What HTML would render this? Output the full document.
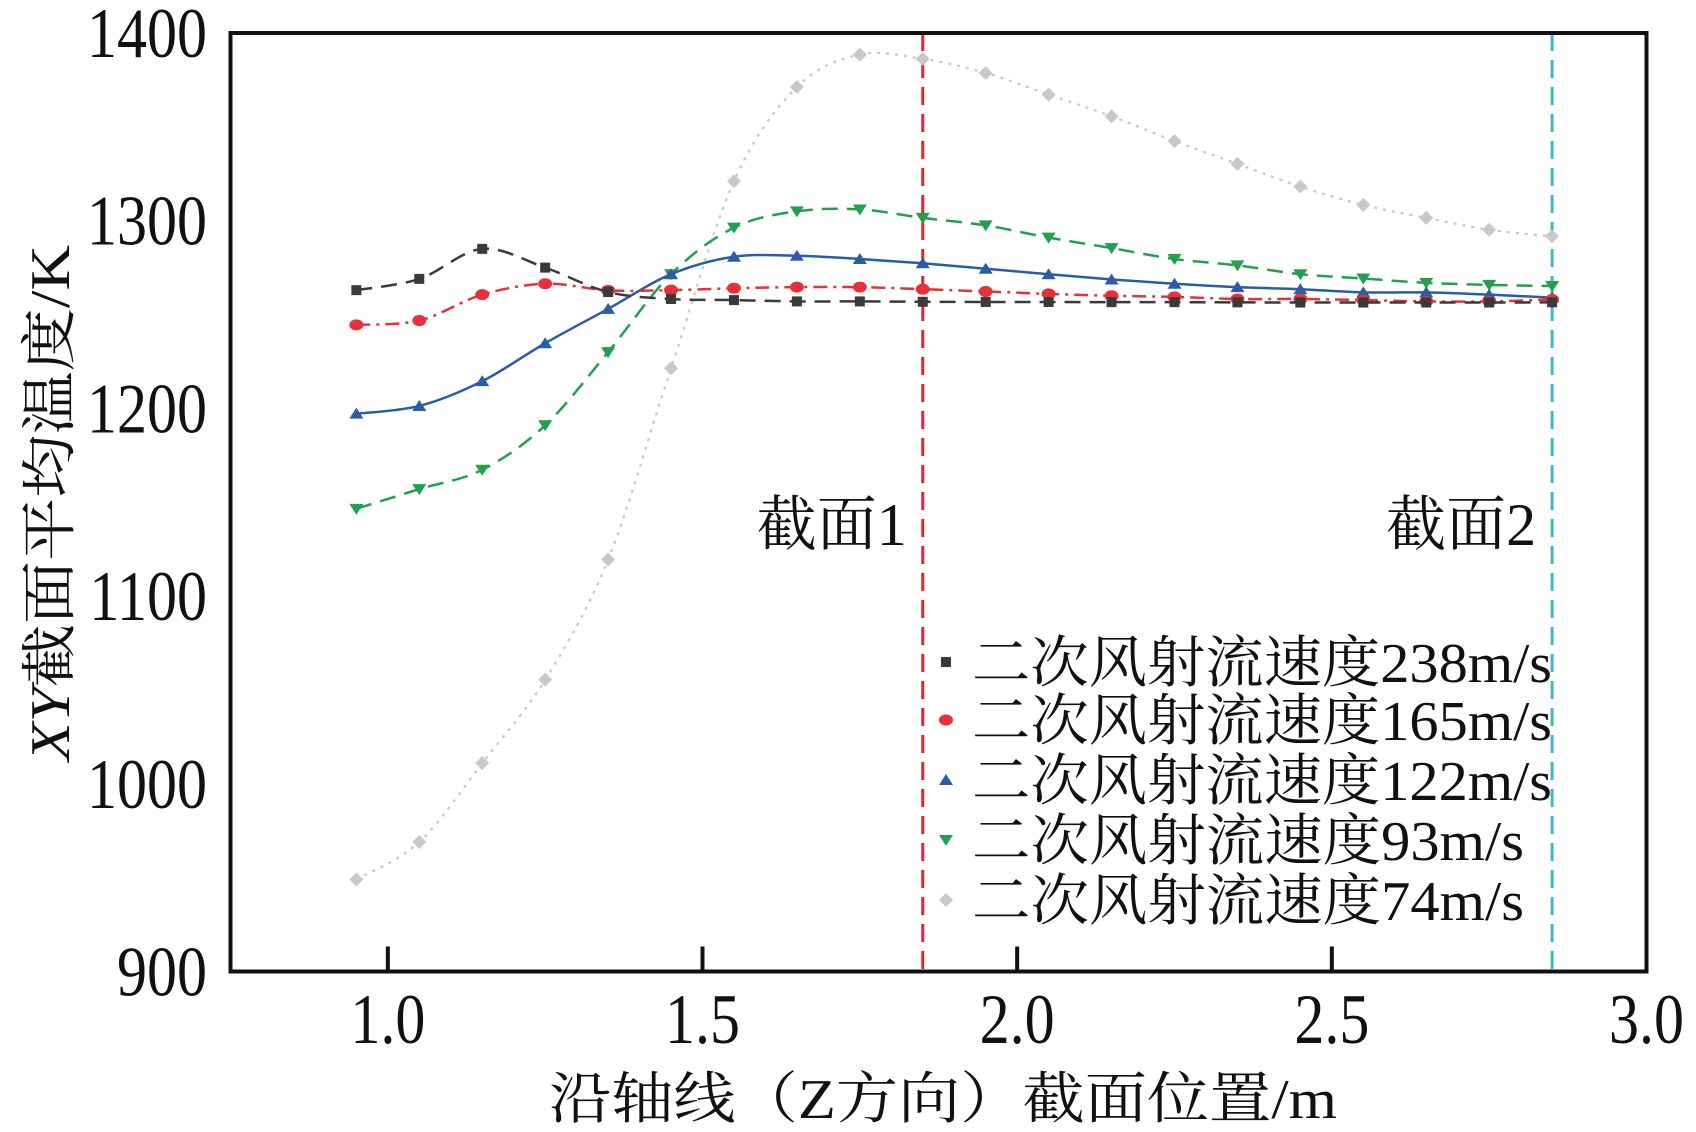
<!DOCTYPE html>
<html><head><meta charset="utf-8"><style>
html,body{margin:0;padding:0;background:#fff;}
svg{display:block;}
text{font-family:"Liberation Serif","Noto Serif CJK SC",serif;fill:#111;}
</style></head><body>
<svg id="chart" width="1696" height="1132" viewBox="0 0 1696 1132" xmlns="http://www.w3.org/2000/svg">
<g id="plot"></g>
<g id="axes"></g>
<g id="legend"></g>
</svg>
<script>
const xPositions = [0.95,1.05,1.15,1.25,1.35,1.45,1.55,1.65,1.75,1.85,1.95,2.05,2.15,2.25,2.35,2.45,2.55,2.65,2.75,2.85];
const s238 = [1263,1269,1285,1275,1262,1258.3,1257.7,1257,1257,1256.8,1256.7,1256.7,1256.6,1256.6,1256.5,1256.4,1256.4,1256.4,1256.4,1256.5];
const s165 = [1244.5,1246.8,1260.6,1266.4,1262.9,1263,1264,1264.6,1264.6,1263.5,1262.3,1261,1260,1259.4,1258.3,1258.3,1257.7,1257,1257,1258];
const s122 = [1197.2,1201.3,1214.5,1234.7,1253,1271.5,1280.8,1281.3,1279.6,1277.3,1274.4,1271.5,1268.7,1266.4,1264.6,1263.5,1261.8,1261.8,1260.6,1259];
const s93 = [1146.5,1157,1167.3,1191,1230,1271.5,1296.3,1305,1306,1301.5,1297.5,1291,1285.4,1279.6,1276.2,1271.5,1269.2,1266.9,1265.8,1265.2];
const s74 = [949,969,1011,1055.5,1119.5,1221.4,1321,1371.2,1388.5,1386.2,1378.7,1367.2,1355.6,1342.4,1330.3,1318.2,1308.4,1301.5,1295.2,1291.7];
const seriesLabels = ["二次风射流速度238m/s","二次风射流速度165m/s","二次风射流速度122m/s","二次风射流速度93m/s","二次风射流速度74m/s"];
const xTicks = [1.0,1.5,2.0,2.5,3.0];
const xTickLabels = ["1.0","1.5","2.0","2.5","3.0"];
const yTicks = [900,1000,1100,1200,1300,1400];
const yTickLabels = ["900","1000","1100","1200","1300","1400"];
const sectionPositions = [1.85,2.85];
const sectionLabels = ["截面1","截面2"];

const NS="http://www.w3.org/2000/svg";
const L=230.5,R=1646.5,T=33,B=971.5;
const X0=0.75,X1=3.0,Y0=900,Y1=1400;
function sx(v){return L+(v-X0)/(X1-X0)*(R-L);}
function sy(v){return B-(v-Y0)/(Y1-Y0)*(B-T);}
function mk(tag,attrs,parent){const e=document.createElementNS(NS,tag);for(const k in attrs)e.setAttribute(k,attrs[k]);parent.appendChild(e);return e;}
const plot=document.getElementById('plot'),axes=document.getElementById('axes'),legend=document.getElementById('legend');

function smoothPath(xs,ys){
  const p=xs.map((x,i)=>[sx(x),sy(ys[i])]);
  let d=`M${p[0][0]},${p[0][1]}`;
  for(let i=0;i<p.length-1;i++){
    const p0=p[i-1]||p[i],p1=p[i],p2=p[i+1],p3=p[i+2]||p2;
    const c1=[p1[0]+(p2[0]-p0[0])/6,p1[1]+(p2[1]-p0[1])/6];
    const c2=[p2[0]-(p3[0]-p1[0])/6,p2[1]-(p3[1]-p1[1])/6];
    d+=` C${c1[0]},${c1[1]} ${c2[0]},${c2[1]} ${p2[0]},${p2[1]}`;
  }
  return d;
}
function marker(type,x,y,color,parent,name){
  let e;
  if(type==='square')e=mk('rect',{x:x-5,y:y-5,width:10,height:10,fill:color},parent);
  else if(type==='circle')e=mk('ellipse',{cx:x,cy:y,rx:7,ry:5.5,fill:color},parent);
  else if(type==='up')e=mk('polygon',{points:`${x},${y-6} ${x+7},${y+5} ${x-7},${y+5}`,fill:color},parent);
  else if(type==='down')e=mk('polygon',{points:`${x-7},${y-5} ${x+7},${y-5} ${x},${y+6}`,fill:color},parent);
  else e=mk('polygon',{points:`${x},${y-7} ${x+7},${y} ${x},${y+7} ${x-7},${y}`,fill:color},parent);
  
  
  return e;
}

const secColors=["#e0252f","#3fb6cc"];
sectionPositions.forEach((v,i)=>{
  const l=mk('line',{x1:sx(v),x2:sx(v),y1:T,y2:B,stroke:secColors[i],'stroke-width':3,'stroke-dasharray':'18 9'},plot);
  
  
  const t=mk('text',{x:sx(v)-16,y:545,'font-size':60,'text-anchor':'end'},plot);
  t.textContent=sectionLabels[i];
  
  
});

const series=[
  {d:s238,color:"#3a3a3a",dash:"16 9",w:2.5,m:'square',n:'series-238'},
  {d:s165,color:"#e8303a",dash:"14 6 3 6",w:2.5,m:'circle',n:'series-165'},
  {d:s122,color:"#2a5ca8",dash:"",w:2.5,m:'up',n:'series-122'},
  {d:s93,color:"#22a050",dash:"16 9",w:2.5,m:'down',n:'series-93'},
  {d:s74,color:"#c8c8c8",dash:"3 6",w:2.2,m:'diamond',n:'series-74'}
];
series.slice().reverse().forEach(s=>{
  const g=mk('g',{},plot);
  
  
  const p=mk('path',{d:smoothPath(xPositions,s.d),fill:'none',stroke:s.color,'stroke-width':s.w,'stroke-dasharray':s.dash},g);
  
  
  xPositions.forEach((x,i)=>{marker(s.m,sx(x),sy(s.d[i]),s.color,g,s.n+'-point');});
});

const fr=mk('rect',{x:L,y:T,width:R-L,height:B-T,fill:'none',stroke:'#111','stroke-width':4},axes);


xTicks.forEach((v,i)=>{
  if(v<X1){const tk=mk('line',{x1:sx(v),x2:sx(v),y1:B,y2:B-25,stroke:'#111','stroke-width':4},axes);
  
  }
  const t=mk('text',{'font-size':60,'text-anchor':'middle',transform:`translate(${sx(v)},1043) scale(1,1.18)`},axes);
  t.textContent=xTickLabels[i];
  
  
});
yTicks.forEach((v,i)=>{
  const t=mk('text',{'font-size':60,'text-anchor':'end',transform:`translate(207,${sy(v)+24}) scale(1,1.18)`},axes);
  t.textContent=yTickLabels[i];
  
  
});
const xt=mk('text',{x:943,y:1118,'font-size':56,'text-anchor':'middle',textLength:788,lengthAdjust:'spacingAndGlyphs'},axes);
xt.textContent="沿轴线（Z方向）截面位置/m";


const yt=mk('text',{x:0,y:0,'font-size':56,'text-anchor':'middle',textLength:516,lengthAdjust:'spacingAndGlyphs',transform:'translate(69,503) rotate(-90)'},axes);
yt.innerHTML='<tspan font-style="italic">XY</tspan>截面平均温度/K';



const rowY=[662,720,780,840,900];
const lw=[580,580,580,552,552];
series.forEach((s,i)=>{
  const g=mk('g',{},legend);
  
  
  marker(s.m,946,rowY[i],s.color,g,'legend-marker');
  const t=mk('text',{x:972,y:rowY[i]+20,'font-size':56,textLength:lw[i],lengthAdjust:'spacingAndGlyphs'},g);
  t.textContent=seriesLabels[i];
  
  
});
</script>
</body></html>
